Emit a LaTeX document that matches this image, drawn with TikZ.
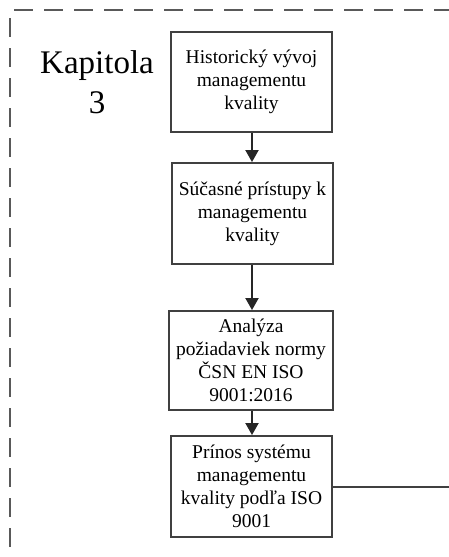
\documentclass[tikz,border=0pt]{standalone}
\usepackage{fontspec}
\setmainfont{Liberation Serif}
\usetikzlibrary{arrows.meta}
\begin{document}
\begin{tikzpicture}[x=1pt,y=-1pt,
  stepbox/.style={draw=black!75, line width=1.9pt, minimum width=161pt,
    minimum height=100pt, align=center, inner sep=0pt,
    font=\fontsize{19.5}{23}\selectfont},
  flow/.style={draw=black!85, line width=1.9pt,
    -{Triangle[width=13pt,length=12pt]}},
  frame/.style={draw=black!65, line width=1.8pt, dash pattern=on 19pt off 11pt},
  chapter/.style={align=center, inner sep=0pt, font=\fontsize{33}{40}\selectfont}]
\useasboundingbox (0,0) rectangle (449,557);

% dashed chapter frame (open to the right and bottom)
\draw[frame] (14,10) -- (470,10);
\draw[frame] (10,18) -- (10,580);

\node[chapter] (kap) at (97,82) {Kapitola\\3};

\node[stepbox] (b1) at (251.5,82) {Historický vývoj\\managementu\\kvality};
\node[stepbox, minimum height=101pt] (b2) at (252.5,213.5) {Súčasné prístupy k\\managementu\\kvality};
\node[stepbox, minimum width=164pt, minimum height=99pt] (b3) at (251,360.5) {Analýza\\požiadaviek normy\\ČSN EN ISO\\9001:2016};
\node[stepbox, minimum height=101pt] (b4) at (251.5,486.5) {Prínos systému\\managementu\\kvality podľa ISO\\9001};

% vertical axis of the flow and the free end of the outgoing line
\coordinate (axis) at (252,0);
\coordinate (exit) at (470,487);

\draw[flow] (b1.south -| axis) -- (b2.north -| axis);
\draw[flow] (b2.south -| axis) -- (b3.north -| axis);
\draw[flow] (b3.south -| axis) -- (b4.north -| axis);
\draw[draw=black!75, line width=1.9pt] (b4.east |- exit) -- (exit);
\end{tikzpicture}
\end{document}
